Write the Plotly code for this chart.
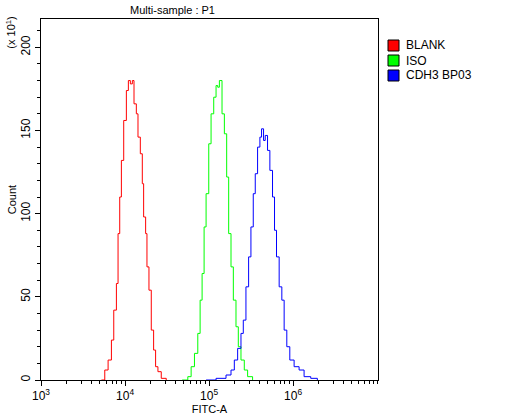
import numpy as np
import plotly.graph_objects as go

# histogram outlines: (pixel x in 3x zoom, count)
red_px = [305, 315, 325, 335, 342, 350, 355, 360, 365, 372, 380, 386, 392, 398, 403, 410, 415, 422, 428, 432, 438, 442, 448, 455, 462, 468, 475, 485, 500]
red_y = [0, 6, 12, 24, 42, 58, 88, 110, 132, 156, 174, 180, 178, 180, 166, 160, 146, 136, 118, 98, 88, 68, 54, 30, 18, 8, 5, 1, 0]
green_px = [548, 565, 575, 585, 595, 602, 608, 614, 620, 628, 635, 643, 650, 655, 660, 668, 675, 682, 688, 695, 702, 710, 717, 725, 735, 745, 760]
green_y = [0, 2, 8, 16, 28, 48, 64, 92, 112, 142, 160, 170, 177, 176, 180, 160, 148, 122, 88, 68, 48, 32, 20, 12, 6, 2, 0]
blue_px = [620, 650, 680, 695, 705, 715, 725, 732, 740, 748, 755, 762, 768, 775, 782, 787, 793, 798, 805, 812, 820, 826, 832, 840, 848, 855, 863, 872, 885, 900, 915, 935, 955]
blue_y = [0, 1, 3, 6, 12, 19, 28, 36, 56, 74, 92, 112, 124, 140, 146, 151, 144, 147, 138, 126, 110, 90, 74, 56, 48, 30, 20, 12, 8, 6, 2, 1, 0]

names = ["BLANK", "ISO", "CDH3 BP03"]
colors = ["#ff0000", "#00ff00", "#0000ff"]

def to_x(px):
    return 10 ** (3 + (np.array(px) - 123) / 253.0)

fig = go.Figure()
for px, ys, c in [(red_px, red_y, colors[0]), (green_px, green_y, colors[1]), (blue_px, blue_y, colors[2])]:
    fig.add_trace(go.Scatter(x=to_x(px), y=ys, mode="lines", line=dict(color=c, width=1, shape="hv"),
                             showlegend=False, hoverinfo="skip"))

W, H = 515, 419
L, R, T, B = 41, 137, 19, 39
fig.update_layout(
    width=W, height=H,
    margin=dict(l=L, r=R, t=T, b=B, autoexpand=False),
    plot_bgcolor="white", paper_bgcolor="white", showlegend=False,
    font=dict(family="Arial, Liberation Sans", size=12, color="black"),
    xaxis=dict(type="log", range=[3, 7.01], showgrid=False, zeroline=False, automargin=False,
               showline=True, linecolor="black", linewidth=1, mirror=True,
               ticks="outside", ticklen=5, tickcolor="black",
               tickvals=[1e3, 1e4, 1e5, 1e6],
               ticktext=["10<sup>3</sup>", "10<sup>4</sup>", "10<sup>5</sup>", "10<sup>6</sup>"],
               minor=dict(ticks="outside", ticklen=3, dtick="D1", tickcolor="black"),
               title=dict(text="FITC-A", standoff=0, font=dict(size=11))),
    yaxis=dict(range=[0, 217], showgrid=False, zeroline=False, automargin=False,
               showline=True, linecolor="black", linewidth=1, mirror=True,
               ticks="outside", ticklen=5, tickcolor="black", tickangle=-90,
               tickvals=[0, 50, 100, 150, 200],
               minor=dict(ticks="outside", ticklen=3, dtick=10, tickcolor="black"),
               title=dict(text="Count", standoff=0, font=dict(size=11))),
)
fig.add_annotation(text="Multi-sample : P1", xref="paper", yref="paper", x=0.39, y=1.0, yshift=1,
                   xanchor="center", yanchor="bottom", showarrow=False, font=dict(size=11))
fig.add_annotation(text="(x 10<sup>1</sup>)", xref="paper", yref="paper", x=-0.09, y=1.0, yshift=4,
                   xanchor="center", yanchor="top", textangle=-90, showarrow=False, font=dict(size=11))

# legend drawn by hand in pixel terms of the plot area
pw, ph = W - L - R, H - T - B
for i, (n, c) in enumerate(zip(names, colors)):
    top = 40 - T + 15 * i  # px below plot top
    x0 = (388 - L) / pw
    fig.add_shape(type="rect", xref="paper", yref="paper",
                  x0=x0, x1=x0 + 11 / pw, y0=1 - (top + 11) / ph, y1=1 - top / ph,
                  fillcolor=c, line=dict(color="black", width=1))
    fig.add_annotation(text=n, xref="paper", yref="paper", x=x0 + 16 / pw, y=1 - (top + 5.5) / ph,
                       xanchor="left", yanchor="middle", showarrow=False, font=dict(size=12))
fig.write_html("out.html", config={"displayModeBar": False},
               post_script="document.body.style.margin='0';document.body.style.overflow='hidden';")
